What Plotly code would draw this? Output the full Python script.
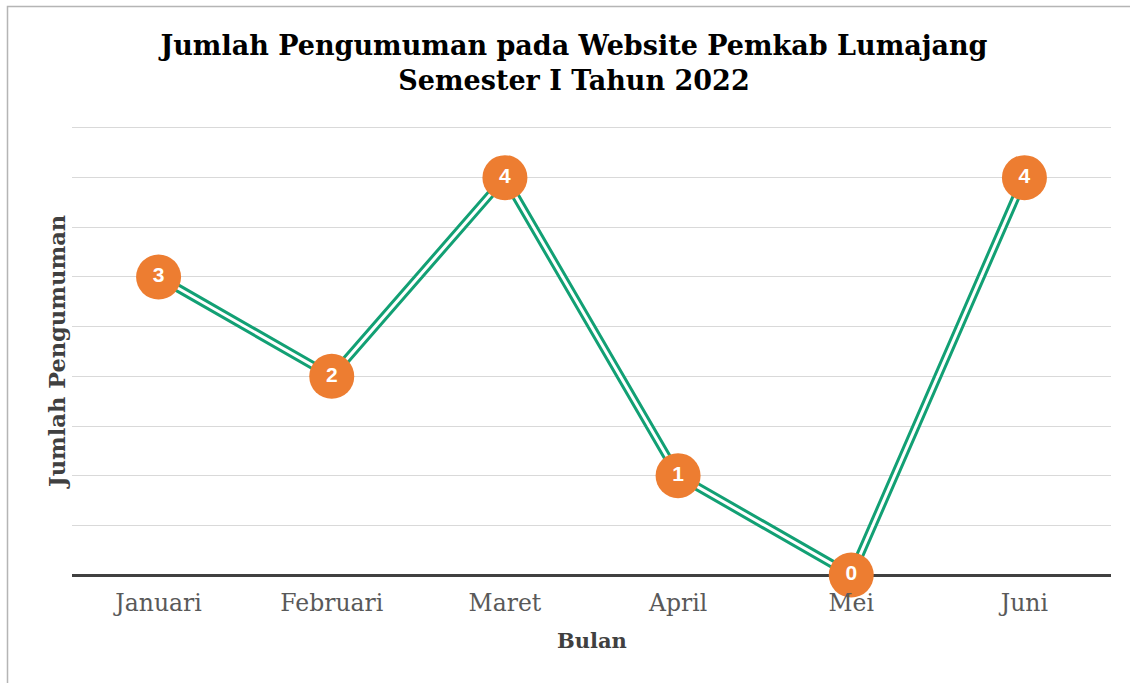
import plotly.graph_objects as go

categories = ["Januari", "Februari", "Maret", "April", "Mei", "Juni"]
values = [3, 2, 4, 1, 0, 4]
title_text = "Jumlah Pengumuman pada Website Pemkab Lumajang<br>Semester I Tahun 2022"
x_title = "Bulan"
y_title = "Jumlah Pengumuman"

GREEN = "#12A074"
ORANGE = "#ED7D31"
SERIF = "DejaVu Serif"

fig = go.Figure()
fig.add_trace(go.Scatter(x=categories, y=values, mode="lines",
                         line=dict(color=GREEN, width=9), hoverinfo="skip", showlegend=False))
fig.add_trace(go.Scatter(x=categories, y=values, mode="lines",
                         line=dict(color="white", width=3), hoverinfo="skip", showlegend=False))
fig.add_trace(go.Scatter(x=categories, y=values, mode="markers+text",
                         marker=dict(color=ORANGE, size=45, line=dict(width=0)),
                         text=[str(v) for v in values], textposition="middle center",
                         textfont=dict(family="Liberation Sans", size=21, color="white", weight="bold"),
                         cliponaxis=False, showlegend=False))

YTOP = 4.52
L, R, B = 72, 19, 108
W, H = 1130, 683
ph = round(447 * YTOP / 4.5)
T = H - B - ph
pw = W - L - R

def px_x(x):
    return (x - L) / pw

def px_y(y):
    return (H - B - y) / ph

fig.update_layout(
    width=W, height=H,
    margin=dict(l=L, r=R, t=T, b=B),
    paper_bgcolor="white", plot_bgcolor="white",
    title=dict(text=title_text, x=574 / W, xanchor="center", y=1 - 55 / H, yanchor="middle",
               font=dict(family=SERIF, size=27, color="black", weight="bold")),
    xaxis=dict(type="category", range=[-0.5, 5.5], showgrid=False, showline=False, ticks="",
               ticklabelstandoff=11,
               tickfont=dict(family=SERIF, size=23.5, color="#595959"), fixedrange=True),
    yaxis=dict(range=[0, YTOP], dtick=0.5, showticklabels=False, ticks="",
               showgrid=True, gridcolor="#d9d9d9", gridwidth=1,
               zeroline=True, zerolinecolor="#404040", zerolinewidth=3, showline=False,
               fixedrange=True),
    annotations=[
        dict(text=y_title, x=px_x(57), y=px_y(352), xref="paper", yref="paper",
             textangle=-90, showarrow=False, xanchor="center", yanchor="middle",
             font=dict(family=SERIF, size=22.5, color="#404040", weight="bold")),
        dict(text=x_title, x=px_x(592), y=px_y(640), xref="paper", yref="paper",
             showarrow=False, xanchor="center", yanchor="middle",
             font=dict(family=SERIF, size=21, color="#404040", weight="bold")),
    ],
    shapes=[
        dict(type="rect", xref="paper", yref="paper",
             x0=px_x(7.5), x1=px_x(1140), y0=px_y(700), y1=px_y(6.5),
             line=dict(color="#b5b5b5", width=1.5), fillcolor="rgba(0,0,0,0)", layer="below"),
    ],
)

fig.write_html("out.html", config={"displayModeBar": False},
               post_script="document.body.style.margin='0px';")
